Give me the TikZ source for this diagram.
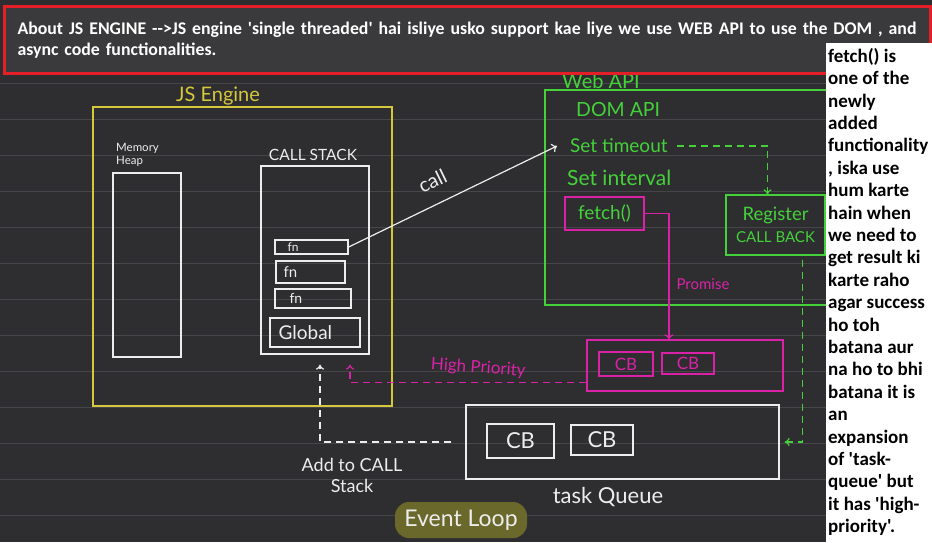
\documentclass[tikz,border=0pt]{standalone}
\usepackage{fontspec}
\setmainfont{Carlito}[Ligatures=TeXOff]
\newfontfamily\hand{Lato}
\usetikzlibrary{calc, arrows.meta, positioning}

\definecolor{board}{HTML}{2E2E30}
\definecolor{ruling}{HTML}{46464A}
\definecolor{headfill}{HTML}{3A3A3C}
\definecolor{redframe}{HTML}{E51F28}
\definecolor{chalk}{HTML}{EDEDED}
\definecolor{chalkyellow}{HTML}{D6C83C}
\definecolor{chalkgreen}{HTML}{44D13A}
\definecolor{chalkpink}{HTML}{D922A8}
\definecolor{marker}{HTML}{6A682B}

\begin{document}
\begin{tikzpicture}[x=1pt, y=-1pt,
  box/.style={draw=#1, line width=1.3pt, inner sep=0pt},
  box/.default=chalk,
  scrawl/.style={font=\hand\fontsize{15}{18}\selectfont, text=#1, inner sep=1pt},
  scrawl/.default=chalk,
  flow/.style={line width=1.2pt, -{To[length=5pt,width=9pt]}},
  hop/.style={line width=1.2pt, dash pattern=on 7pt off 5pt, -{To[length=5pt,width=8pt]}}]
  % board and ruling
  \fill[board] (0,0) rectangle (932,542);
  \useasboundingbox (0,0) rectangle (932,542);
  \foreach \k in {0,...,12}
    \draw[ruling, line width=0.8pt] (0,{83+36*\k}) -- (932,{83+36*\k});

  % JS engine
  \node[box=chalkyellow, minimum width=299pt, minimum height=299pt] (engine) at (242.5,256.5) {};
  \node[scrawl=chalkyellow, font=\hand\fontsize{20}{22}\selectfont] (enginelbl) at (218,96) {JS Engine};
  % memory heap
  \node[box, minimum width=68pt, minimum height=184pt] (heap) at (147,265) {};
  \node[scrawl, align=left, anchor=south west, font=\hand\fontsize{11.5}{13}\selectfont] (heaplbl) at (115,168) {Memory\\Heap};
  % call stack
  \node[box, minimum width=108pt, minimum height=188pt] (stack) at (315,260) {};
  \node[scrawl, font=\hand\fontsize{15.5}{17}\selectfont] (stacklbl) at (313,155) {CALL STACK};
  \node[box, minimum width=73pt, minimum height=14pt] (fnA) at (311.5,247) {};
  \node[box, minimum width=69pt, minimum height=22pt] (fnB) at (310.5,272) {};
  \node[box, minimum width=76pt, minimum height=19pt] (fnC) at (313,298.5) {};
  \node[box, minimum width=90pt, minimum height=29pt] (global) at (315,332.5) {};
  \node[scrawl, font=\hand\fontsize{12}{14}\selectfont, right=12pt of fnA.west] (fnAtxt) {fn};
  \node[scrawl, font=\hand\fontsize{15}{16}\selectfont, right=7pt of fnB.west] (fnBtxt) {fn};
  \node[scrawl, font=\hand\fontsize{14}{15}\selectfont, right=14pt of fnC.west] (fnCtxt) {fn};
  \node[scrawl, font=\hand\fontsize{19}{20}\selectfont, right=8pt of global.west] (globaltxt) {Global};

  % web api
  \node[box=chalkgreen, minimum width=300pt, minimum height=215pt] (webapi) at (695,197.5) {};
  \node[scrawl=chalkgreen, font=\hand\fontsize{20}{22}\selectfont] (webapilbl) at (601,81) {Web API};
  \node[scrawl=chalkgreen, anchor=west, font=\hand\fontsize{19.5}{22}\selectfont] (dom) at (575,110) {DOM API};
  \node[scrawl=chalkgreen, anchor=west, font=\hand\fontsize{19}{22}\selectfont] (timeout) at (569,146) {Set timeout};
  \node[scrawl=chalkgreen, anchor=west, font=\hand\fontsize{21}{24}\selectfont] (interval) at (566,178) {Set interval};
  \node[box=chalkpink, scrawl=chalkgreen, font=\hand\fontsize{19}{20}\selectfont, minimum width=79pt, minimum height=33pt] (fetch) at (604.5,213.5) {fetch()};
  \node[box=chalkgreen, scrawl=chalkgreen, align=center, minimum width=99pt, minimum height=60pt, font=\hand\fontsize{18.5}{22}\selectfont] (register) at (775.5,225) {Register\\{\fontsize{15}{16}\selectfont CALL BACK}};

  % call into web api
  \draw[flow, chalk] (fnA.east) -- node[scrawl, font=\hand\fontsize{20}{22}\selectfont, sloped, above=14pt, pos=0.45] {call} ([xshift=-12pt]timeout.west);
  \draw[hop, chalkgreen, shorten <=8pt] (timeout.east) -| ([xshift=-8pt]register.north);

  % high priority queue
  \node[box=chalkpink, minimum width=196pt, minimum height=51pt] (micro) at (685,365.5) {};
  \node[box=chalkpink, scrawl=chalkpink, font=\hand\fontsize{17}{18}\selectfont, minimum width=54pt, minimum height=24pt] (mcbA) at (626,364) {CB};
  \node[box=chalkpink, scrawl=chalkpink, font=\hand\fontsize{17}{18}\selectfont, minimum width=52pt, minimum height=21pt] (mcbB) at (688,363.5) {CB};
  \draw[flow, chalkpink] (fetch.east) -| node[scrawl=chalkpink, pos=0.78, right=6pt] {Promise} ([xshift=-16pt]micro.north);
  \coordinate (hpEnd) at ($(stack.south)+(35,10)$);
  \draw[hop, chalkpink] ($(micro.west)+(0,17)$) -| node[scrawl=chalkpink, font=\hand\fontsize{17}{18}\selectfont, pos=0.23, above=5pt, rotate=-4] {High Priority} (hpEnd);

  % task queue
  \node[box, minimum width=313pt, minimum height=74pt] (task) at (622.5,442) {};
  \node[box, scrawl, font=\hand\fontsize{22}{24}\selectfont, minimum width=67pt, minimum height=34pt] (tcbA) at (520.5,441) {CB};
  \node[box, scrawl, font=\hand\fontsize{22}{24}\selectfont, minimum width=62pt, minimum height=30pt] (tcbB) at (602,440) {CB};
  \node[scrawl, font=\hand\fontsize{22}{24}\selectfont] (tasklbl) at (608,497) {task Queue};
  \draw[hop, chalkgreen, shorten <=4pt, shorten >=5pt] ([xshift=27pt]register.south) |- (task.east);
  \coordinate (addEnd) at ($(stack.south)+(5,10)$);
  \draw[hop, chalk, shorten <=14pt] (task.west) -| (addEnd);
  \node[scrawl, align=center, font=\hand\fontsize{18}{21}\selectfont] (addlbl) at (352,475) {Add to CALL\\Stack};

  % event loop
  \node[fill=marker, rounded corners=14pt, scrawl, font=\hand\fontsize{23}{24}\selectfont, minimum width=132pt, minimum height=36pt] (loop) at (461,520) {Event Loop};

  % heading
  \node[draw=redframe, line width=3pt, fill=headfill, anchor=north west, minimum width=926pt, minimum height=67pt, text width=900pt, inner xsep=12pt, align=left, text=white, font=\bfseries\fontsize{17.8}{21}\selectfont] (header) at (3,5) {About JS ENGINE -->JS engine 'single threaded' hai isliye usko support kae liye we use WEB API to use the DOM , and\\async code functionalities.};

  % side note
  \node[fill=white, anchor=north west, minimum width=106pt, minimum height=499pt, inner sep=0pt] (notes) at (826,43) {};
  \node[anchor=north west, align=left, inner sep=2pt, font=\bfseries\fontsize{19}{22.4}\selectfont] (notetxt) at ([yshift=-3pt]notes.north west) {fetch() is\\one of the\\newly\\added\\functionality\\, iska use\\hum karte\\hain when\\we need to\\get result ki\\karte raho\\agar success\\ho toh\\batana aur\\na ho to bhi\\batana it is\\an\\expansion\\of 'task-\\queue' but\\it has 'high-\\priority'.};
\end{tikzpicture}
\end{document}
